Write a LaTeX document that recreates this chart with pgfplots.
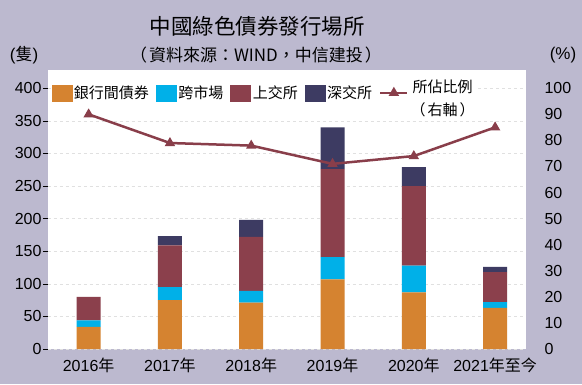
\documentclass[border=0pt]{standalone}
\usepackage{pgfplots}
\pgfplotsset{compat=1.18}
\usepackage{fontspec}
\setmainfont{Liberation Sans}
\newfontfamily\cjk{Noto Sans CJK TC}
\definecolor{bg}{RGB}{188,185,207}
\definecolor{orangeC}{RGB}{213,131,48}
\definecolor{cyanC}{RGB}{0,176,232}
\definecolor{maroonC}{RGB}{139,64,76}
\definecolor{navyC}{RGB}{61,59,98}
\definecolor{lineC}{RGB}{137,62,74}
\begin{document}
\begin{tikzpicture}[x=1bp,y=1bp]
\path[use as bounding box] (0,0) rectangle (582,384);
\fill[bg] (0,0) rectangle (582,384);
\node[font=\fontsize{21.5bp}{25bp}\selectfont\cjk] at (257,358) {中國綠色債券發行場所};
\node[font=\fontsize{17bp}{20bp}\selectfont\cjk] at (256,329) {（\kern2bp 資料來源：WIND，中信建投\kern2bp ）};
\node[font=\fontsize{17bp}{20bp}\selectfont] at (24,329) {({\cjk 隻})};
\node[font=\fontsize{17bp}{20bp}\selectfont] at (563,329) {(\%)};
\begin{axis}[
  at={(48bp,35bp)}, anchor=south west, scale only axis,
  width=478bp, height=279bp,
  ybar stacked, bar width=24bp,
  xmin=-0.5, xmax=5.38, ymin=0, ymax=428,
  xtick={0,1,2,3,4,5},
  xticklabels={{2016{\cjk 年}},{2017{\cjk 年}},{2018{\cjk 年}},{2019{\cjk 年}},{2020{\cjk 年}},{2021{\cjk 年至今}}},
  ytick={0,50,...,400},
  axis x line*=bottom, axis y line*=left,
  axis line style={draw=none},
  axis background/.style={fill=white},
  ymajorgrids, grid style={black!12, dashed},
  xtick style={draw=none},
  ytick style={black, line width=0.6bp},
  tick align=outside, major tick length=5bp,
  tick label style={font=\fontsize{16bp}{18bp}\selectfont},
  yticklabel style={xshift=2bp},
  /pgf/number format/assume math mode=true,
  xticklabel style={yshift=0bp},
  clip=false,
]
\addplot[fill=orangeC, draw=none] coordinates {(0,34) (1,75) (2,71) (3,107) (4,87) (5,63)};
\addplot[fill=cyanC, draw=none] coordinates {(0,10) (1,20) (2,18) (3,34) (4,41) (5,9)};
\addplot[fill=maroonC, draw=none] coordinates {(0,36) (1,64) (2,83) (3,135) (4,122) (5,46)};
\addplot[fill=navyC, draw=none] coordinates {(0,0) (1,14) (2,26) (3,64) (4,29) (5,8)};
\end{axis}
\begin{axis}[
  at={(48bp,35bp)}, anchor=south west, scale only axis,
  width=478bp, height=279bp,
  xmin=-0.5, xmax=5.38, ymin=0, ymax=107,
  axis x line=none, axis y line*=right,
  axis line style={draw=none},
  ytick={0,10,...,100},
  ytick style={draw=none},
  tick label style={font=\fontsize{16bp}{18bp}\selectfont},
  yticklabel style={anchor=west, xshift=15bp},
  /pgf/number format/assume math mode=true,
  clip=false,
  legend style={at={(0.005,0.975)}, anchor=north west, draw=none, fill=white,
    font=\fontsize{15bp}{18bp}\selectfont\cjk, inner sep=1bp,
    /tikz/every even column/.append style={column sep=5bp}},
  legend columns=5, legend cell align=left,
]
\addlegendimage{legend image code/.code={\fill[orangeC] (0bp,-8bp) rectangle (20bp,8bp);}}
\addlegendentry{銀行間債券}
\addlegendimage{legend image code/.code={\fill[cyanC] (0bp,-8bp) rectangle (20bp,8bp);}}
\addlegendentry{跨市場}
\addlegendimage{legend image code/.code={\fill[maroonC] (0bp,-8bp) rectangle (20bp,8bp);}}
\addlegendentry{上交所}
\addlegendimage{legend image code/.code={\fill[navyC] (0bp,-8bp) rectangle (20bp,8bp);}}
\addlegendentry{深交所}
\addplot[lineC, line width=2.5bp, mark=triangle*, mark size=3.5bp, mark options={solid},
  legend image code/.code={\draw[lineC, line width=2.5bp, mark=triangle*, mark size=3.5bp, mark repeat=2,mark phase=2] plot coordinates {(0bp,0bp) (13.5bp,0bp) (27bp,0bp)};}]
  coordinates {(0,90) (1,79) (2,78) (3,71) (4,74) (5,85)};
\addlegendentry{\begin{tabular}{@{}c@{}}所佔比例\\[4bp]（\kern2bp 右軸\kern2bp ）\end{tabular}}
\end{axis}
\end{tikzpicture}
\end{document}
